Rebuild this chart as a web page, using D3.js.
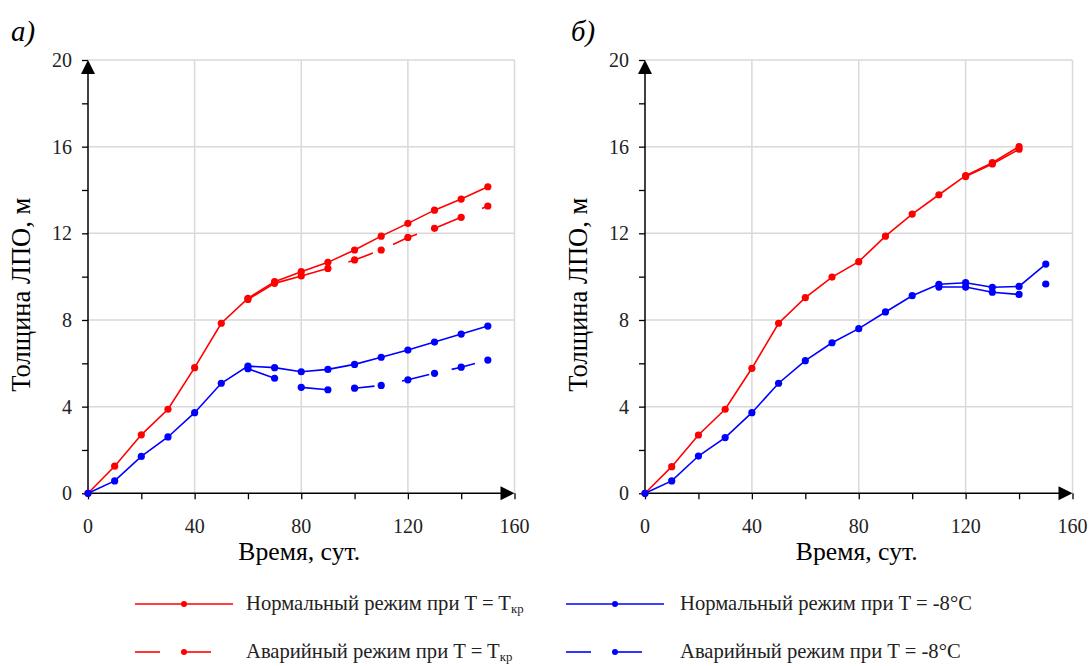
<!DOCTYPE html>
<html>
<head>
<meta charset="utf-8">
<script src="https://cdn.jsdelivr.net/npm/d3@7"></script>
<style>
  html, body { margin: 0; padding: 0; background: #fff; }
  svg { display: block; }
</style>
</head>
<body>
<svg id="chart" width="1089" height="666"></svg>
<script>
// ---- data: ice-layer thickness (м) vs time (сут.) ----
const daysFull = [0, 10, 20, 30, 40, 50, 60, 70, 80, 90, 100, 110, 120, 130, 140, 150];

// panel а)
const aNormKrDays = daysFull;
const aNormKr = [0, 1.25, 2.7, 3.88, 5.8, 7.85, 9.0, 9.77, 10.23, 10.66, 11.23, 11.87, 12.46, 13.07, 13.58, 14.15];
const aEmerKrDays = [60, 70, 80, 90, 100, 110, 120, 130, 140, 150];
const aEmerKr = [8.95, 9.69, 10.03, 10.38, 10.77, 11.23, 11.81, 12.23, 12.74, 13.26];
const aNormM8Days = daysFull;
const aNormM8 = [0, 0.57, 1.7, 2.6, 3.72, 5.08, 5.87, 5.8, 5.61, 5.72, 5.95, 6.28, 6.61, 6.98, 7.35, 7.72];
const aEmerM8Days = [60, 70, 80, 90, 100, 110, 120, 130, 140, 150];
const aEmerM8 = [5.75, 5.31, 4.89, 4.78, 4.85, 4.98, 5.24, 5.54, 5.82, 6.15];

// panel б)
const bNormKrDays = [0, 10, 20, 30, 40, 50, 60, 70, 80, 90, 100, 110, 120, 130, 140];
const bNormKr = [0, 1.23, 2.69, 3.88, 5.77, 7.85, 9.03, 9.98, 10.69, 11.87, 12.89, 13.78, 14.66, 15.26, 16.0];
const bEmerKrDays = [120, 130, 140];
const bEmerKr = [14.62, 15.2, 15.88];
const bNormM8Days = daysFull;
const bNormM8 = [0, 0.57, 1.72, 2.57, 3.72, 5.08, 6.12, 6.95, 7.6, 8.37, 9.12, 9.65, 9.72, 9.51, 9.55, 10.58];
const bEmerM8Days = [110, 120, 130, 140, 150];
const bEmerM8 = [9.52, 9.52, 9.28, 9.18, 9.66];

// axis ticks
const xTicksMajor = [0, 40, 80, 120, 160];
const xTicksMinor = [0, 20, 40, 60, 80, 100, 120, 140, 160];
const yTicksMajor = [0, 4, 8, 12, 16, 20];
const yTicksMinor = [0, 2, 4, 6, 8, 10, 12, 14, 16, 18, 20];

const panelLabels = ["а)", "б)"];
const xTitle = "Время, сут.";
const yTitle = "Толщина ЛПО, м";

const legendItems = [
  { text: "Нормальный режим при T = T", sub: "кр", color: "#ff0000", dashed: false },
  { text: "Нормальный режим при T = -8°C", sub: "", color: "#0000ff", dashed: false },
  { text: "Аварийный режим при T = T", sub: "кр", color: "#ff0000", dashed: true },
  { text: "Аварийный режим при T = -8°C", sub: "", color: "#0000ff", dashed: true }
];

const RED = "#ff0000", BLUE = "#0000ff";

// pick the first installed serif face, falling back to the generic family
function pickFont(cands) {
  const ctx = document.createElement("canvas").getContext("2d");
  const probe = "mmmmmmmmmmlliWWQ@# Толщина 0123";
  ctx.font = "40px monospace";
  const base = ctx.measureText(probe).width;
  for (const f of cands) {
    ctx.font = `40px "${f}", monospace`;
    if (Math.abs(ctx.measureText(probe).width - base) > 0.5) return `"${f}", serif`;
  }
  return "serif";
}
const FONT = pickFont(["Liberation Serif", "Tinos", "Times New Roman", "DejaVu Serif",
  "Noto Serif", "FreeSerif", "Nimbus Roman", "Nimbus Roman No9 L", "Times"]);

// scale a text's font size so that its rendered width equals `w`
function fitWidth(sel, w) {
  const node = sel.node();
  const fs = parseFloat(sel.attr("font-size"));
  const cur = node.getComputedTextLength();
  if (cur > 0) sel.attr("font-size", (fs * w / cur).toFixed(2));
  return parseFloat(sel.attr("font-size"));
}

const panels = [
  {
    label: panelLabels[0], x0: 88, x1: 514.5, labelX: 11,
    series: [
      { days: aNormKrDays, vals: aNormKr, color: RED, dash: null },
      { days: aEmerKrDays, vals: aEmerKr, color: RED, dash: "86,22,26,22,26,22,26,22,26,22,26,22" },
      { days: aNormM8Days, vals: aNormM8, color: BLUE, dash: null },
      { days: aEmerM8Days, vals: aEmerM8, color: BLUE, dash: "29,27,27,27,20,28,28,23,24,22" }
    ]
  },
  {
    label: panelLabels[1], x0: 645, x1: 1072.5, labelX: 571,
    series: [
      { days: bNormKrDays, vals: bNormKr, color: RED, dash: null },
      { days: bEmerKrDays, vals: bEmerKr, color: RED, dash: null },
      { days: bNormM8Days, vals: bNormM8, color: BLUE, dash: null },
      { days: bEmerM8Days, vals: bEmerM8, color: BLUE, dash: "84,22,30" }
    ]
  }
];

const svg = d3.select("#chart").attr("font-family", FONT);
const yTop = 60, yBottom = 493.3;

// font sizes derived from the text widths of the layout
const probeG = svg.append("g");
const tickSize = fitWidth(probeG.append("text").attr("font-size", 18).text("160"), 30);
const xTitleSize = fitWidth(probeG.append("text").attr("font-size", 22).text(xTitle), 122);
const yTitleSize = fitWidth(probeG.append("text").attr("font-size", 22).text(yTitle), 194);
const legendSize = fitWidth(probeG.append("text").attr("font-size", 18).text(legendItems[1].text), 292);
const labelSize = fitWidth(probeG.append("text").attr("font-size", 24).attr("font-style", "italic").text("а)"), 24);
probeG.remove();

panels.forEach(p => {
  const x = d3.scaleLinear().domain([0, 160]).range([p.x0, p.x1]);
  const y = d3.scaleLinear().domain([0, 20]).range([yBottom, yTop]);
  const g = svg.append("g");

  // grid
  g.append("g").selectAll("line").data(xTicksMajor.filter(d => d > 0)).join("line")
    .attr("x1", d => x(d)).attr("x2", d => x(d))
    .attr("y1", y(0)).attr("y2", y(20))
    .attr("stroke", "#d9d9d9").attr("stroke-width", 1.5);
  g.append("g").selectAll("line").data(yTicksMajor.filter(d => d > 0)).join("line")
    .attr("x1", x(0)).attr("x2", x(160))
    .attr("y1", d => y(d)).attr("y2", d => y(d))
    .attr("stroke", "#d9d9d9").attr("stroke-width", 1.5);

  // axes with outward ticks
  const xAxis = d3.axisBottom(x).tickValues(xTicksMinor).tickSize(6).tickFormat("");
  const yAxis = d3.axisLeft(y).tickValues(yTicksMinor).tickSize(6).tickFormat("");
  const gx = g.append("g").attr("transform", `translate(0,${y(0)})`).call(xAxis);
  const gy = g.append("g").attr("transform", `translate(${x(0)},0)`).call(yAxis);
  [gx, gy].forEach(a => {
    a.select(".domain").remove();
    a.selectAll(".tick line").attr("stroke", "#000").attr("stroke-width", 1.3);
  });
  g.append("line").attr("x1", x(0)).attr("x2", x(160) - 6).attr("y1", y(0)).attr("y2", y(0))
    .attr("stroke", "#000").attr("stroke-width", 1.5);
  g.append("line").attr("x1", x(0)).attr("x2", x(0)).attr("y1", y(0)).attr("y2", y(20) + 6)
    .attr("stroke", "#000").attr("stroke-width", 1.5);
  // arrow heads
  g.append("path")
    .attr("d", `M${x(160)},${y(0)} L${x(160) - 14},${y(0) - 7} L${x(160) - 14},${y(0) + 7} Z`)
    .attr("fill", "#000");
  g.append("path")
    .attr("d", `M${x(0)},${y(20)} L${x(0) - 7},${y(20) + 14} L${x(0) + 7},${y(20) + 14} Z`)
    .attr("fill", "#000");

  // tick labels
  g.append("g").selectAll("text").data(xTicksMajor).join("text")
    .attr("x", d => x(d)).attr("y", y(0) + 40)
    .attr("text-anchor", "middle").attr("font-size", tickSize).attr("fill", "#222")
    .text(d => d);
  g.append("g").selectAll("text").data(yTicksMajor).join("text")
    .attr("x", x(0) - 16).attr("y", d => y(d) + 7)
    .attr("text-anchor", "end").attr("font-size", tickSize).attr("fill", "#222")
    .text(d => d);

  // titles
  g.append("text").attr("x", x(80) - 2).attr("y", y(0) + 67)
    .attr("text-anchor", "middle").attr("font-size", xTitleSize).attr("fill", "#000")
    .text(xTitle);
  g.append("text")
    .attr("transform", `translate(${x(0) - 58},${(y(0) + y(20)) / 2 + 18}) rotate(-90)`)
    .attr("text-anchor", "middle").attr("font-size", yTitleSize).attr("fill", "#000")
    .text(yTitle);
  g.append("text").attr("x", p.labelX).attr("y", 41)
    .attr("font-size", labelSize).attr("font-style", "italic").attr("fill", "#000")
    .text(p.label);

  // series
  const line = d3.line().x(d => x(d[0])).y(d => y(d[1]));
  p.series.forEach(s => {
    const pts = s.days.map((d, i) => [d, s.vals[i]]);
    g.append("path").datum(pts)
      .attr("d", line).attr("fill", "none")
      .attr("stroke", s.color).attr("stroke-width", 1.6)
      .attr("stroke-dasharray", s.dash);
    g.append("g").selectAll("circle").data(pts).join("circle")
      .attr("cx", d => x(d[0])).attr("cy", d => y(d[1])).attr("r", 3.6)
      .attr("fill", s.color);
  });
});

// legend
const legendCols = [{ lx: 135, tx: 246 }, { lx: 566, tx: 680 }];
const legendRows = [604, 652];
legendItems.forEach((it, i) => {
  const col = legendCols[i % 2], ly = legendRows[Math.floor(i / 2)];
  const g = svg.append("g");
  if (it.dashed) {
    g.append("line").attr("x1", col.lx).attr("x2", col.lx + 25).attr("y1", ly).attr("y2", ly)
      .attr("stroke", it.color).attr("stroke-width", 1.6);
    g.append("line").attr("x1", col.lx + 49).attr("x2", col.lx + 76).attr("y1", ly).attr("y2", ly)
      .attr("stroke", it.color).attr("stroke-width", 1.6);
  } else {
    g.append("line").attr("x1", col.lx).attr("x2", col.lx + 98).attr("y1", ly).attr("y2", ly)
      .attr("stroke", it.color).attr("stroke-width", 1.6);
  }
  g.append("circle").attr("cx", col.lx + 49).attr("cy", ly).attr("r", 3).attr("fill", it.color);
  const t = g.append("text").attr("x", col.tx).attr("y", ly + 6)
    .attr("font-size", legendSize).attr("fill", "#222").text(it.text);
  if (it.sub) {
    t.append("tspan").attr("font-size", legendSize * 0.62).attr("dy", 3).text(it.sub);
  }
});
</script>
</body>
</html>
